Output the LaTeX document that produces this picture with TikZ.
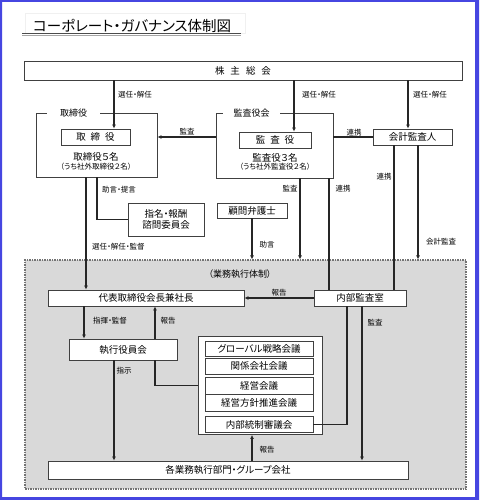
\documentclass[tikz,border=0pt]{standalone}
\usepackage{fontspec}
\setmainfont{Noto Sans CJK JP}[RawFeature=+palt]
\usetikzlibrary{arrows.meta}
\definecolor{frameblue}{RGB}{70,70,225}
\definecolor{execgray}{RGB}{217,217,217}

\begin{document}
\begin{tikzpicture}[x=1pt, y=-1pt,
  box/.style={draw=black!75, fill=white, line width=0.9pt, inner sep=0pt, font=\fontsize{9.5}{11}\selectfont},
  grp/.style={draw=black!75, line width=0.9pt, inner sep=0pt},
  grptitle/.style={fill=white, inner sep=0pt, minimum height=9, font=\fontsize{9}{10}\selectfont},
  lbl/.style={inner sep=0pt, font=\fontsize{7.5}{8}\selectfont},
  link/.style={line width=1.1pt, black!85},
  arr/.style={link, -{Latex[length=4pt, width=4pt]}}]
\useasboundingbox (0, 0) rectangle (479, 500);
\fill[frameblue, even odd rule] (0, 0) rectangle (479, 500) (2, 2) rectangle (475, 497);

\draw[black!6] (25, 13) rectangle (245, 33);
\node[anchor=west, inner sep=0pt, font=\fontsize{14.5}{15}\selectfont] (title) at (33, 25.5) {コーポレート・ガバナンス体制図};
\draw[black!70, line width=1.5pt] (22, 33.5) -- (241, 33.5);
\draw[black!35, line width=1pt] (22, 35.2) -- (241, 35.2);

\coordinate (la) at (114, 0);
\coordinate (lb) at (294, 0);
\coordinate (lc) at (408, 0);
\coordinate (ld) at (86, 0);
\coordinate (le) at (97, 0);
\coordinate (lf) at (300, 0);
\coordinate (lg) at (329, 0);
\coordinate (lh) at (394, 0);
\coordinate (li) at (418, 0);
\coordinate (lj) at (84, 0);
\coordinate (lk) at (155, 0);
\coordinate (ll) at (347, 0);
\coordinate (lm) at (362, 0);

\node[box, minimum width=438, minimum height=19] (kabu) at (243, 70.5) {株\hspace{6pt}主\hspace{6pt}総\hspace{6pt}会};

\node[grp, minimum width=121, minimum height=64] (toriF) at (96.5, 145) {};
\node[grptitle, minimum width=53] (toriT) at (73.5, 113) {取締役};
\node[box, minimum width=69, minimum height=16] (tori) at (95.5, 137) {取\hspace{5pt}締\hspace{5pt}役};
\node[inner sep=0pt, font=\fontsize{9.5}{10}\selectfont] (toriNum) at (96, 157) {取締役５名};
\node[inner sep=0pt, font=\fontsize{7.5}{8}\selectfont] (toriOut) at (96, 166.5) {（うち社外取締役２名）};

\node[grp, minimum width=117, minimum height=65] (kanF) at (274.5, 145.5) {};
\node[grptitle, minimum width=57] (kanT) at (251.5, 113) {監査役会};
\node[box, minimum width=72, minimum height=16] (kan) at (275, 140) {監\hspace{5pt}査\hspace{5pt}役};
\node[inner sep=0pt, font=\fontsize{9.5}{10}\selectfont] (kanNum) at (275, 158) {監査役３名};
\node[inner sep=0pt, font=\fontsize{7.5}{8}\selectfont] (kanOut) at (275, 167) {（うち社外監査役２名）};

\node[box, minimum width=79, minimum height=16] (kaikei) at (412.5, 137) {会計監査人};
\node[box, minimum width=76, minimum height=33, align=center] (shimei) at (166, 219.5) {指名・報酬\\諮問委員会};
\node[box, minimum width=70, minimum height=15] (komon) at (252, 210.5) {顧問弁護士};

\node[draw=black!55, dash pattern=on 1.5pt off 1pt, line width=1.2pt, fill=execgray, inner sep=0pt, minimum width=441, minimum height=229] (gyomu) at (245.5, 374.5) {};
\node[inner sep=0pt, font=\fontsize{9}{10}\selectfont] (gyomuT) at (240, 274) {（業務執行体制）};

\node[box, minimum width=196, minimum height=16] (daihyo) at (146, 298) {代表取締役会長兼社長};
\node[box, minimum width=92, minimum height=16] (naibu) at (360, 298) {内部監査室};
\node[box, minimum width=108, minimum height=21] (shikko) at (123, 349.5) {執行役員会};
\node[box, minimum width=124, minimum height=98] (kaigi) at (260.5, 385.5) {};
\node[box, minimum width=108, minimum height=15] (g1) at (259, 349) {グローバル戦略会議};
\node[box, minimum width=108, minimum height=16] (g2) at (259, 366) {関係会社会議};
\node[box, minimum width=108, minimum height=17] (g3) at (259, 385.5) {経営会議};
\node[box, minimum width=108, minimum height=17] (g4) at (259, 402.5) {経営方針推進会議};
\node[box, minimum width=108, minimum height=16] (g5) at (259, 424.5) {内部統制審議会};
\node[box, minimum width=360, minimum height=18] (kakugyo) at (228, 470) {各業務執行部門・グループ会社};

\draw[arr] (kabu.south -| la) -- (tori.north -| la);
\draw[arr] (kabu.south -| lb) -- (kan.north -| lb);
\draw[arr] (kabu.south -| lc) -- (kaikei.north -| lc);
\draw[arr] (kanF.west |- tori) -- (toriF.east |- tori);
\draw[link] (kanF.east |- kaikei) -- (kaikei.west);
\draw[arr] (toriF.south -| ld) -- (daihyo.north -| ld);
\draw[link] (toriF.south -| le) |- (shimei.west);
\draw[arr] (komon.south) -- (komon.south |- gyomu.north);
\draw[arr] (kanF.south -| lf) -- (gyomu.north -| lf);
\draw[link] (kanF.south -| lg) -- (naibu.north -| lg);
\draw[link] (kaikei.south -| lh) -- (naibu.north -| lh);
\draw[arr] (kaikei.south -| li) -- (gyomu.north -| li);
\draw[arr] (naibu.west) -- (daihyo.east);
\draw[arr] (daihyo.south -| lj) -- (shikko.north -| lj);
\draw[arr] (shikko.north -| lk) -- (daihyo.south -| lk);
\draw[link] (shikko.south -| lk) |- (kaigi.west);
\draw[arr] (shikko.south -| la) -- (kakugyo.north -| la);
\draw[link] (g5.east) -| (naibu.south -| ll);
\draw[arr] (naibu.south -| lm) -- (kakugyo.north -| lm);
\draw[arr] (kakugyo.north -| komon) -- (kaigi.south -| komon);

\node[lbl, anchor=west] (selA) at (118, 94.5) {選任・解任};
\node[lbl, anchor=west] (selB) at (302, 94.5) {選任・解任};
\node[lbl, anchor=west] (selC) at (413, 94.5) {選任・解任};
\node[lbl] (kansaA) at (187, 132) {監査};
\node[lbl] (renA) at (354, 133) {連携};
\node[lbl, anchor=west] (jogenA) at (102, 190) {助言・提言};
\node[lbl, anchor=west] (selD) at (92, 247) {選任・解任・監督};
\node[lbl] (jogenB) at (267, 245) {助言};
\node[lbl] (kansaB) at (290, 189) {監査};
\node[lbl] (renB) at (343, 189) {連携};
\node[lbl] (renC) at (384, 177) {連携};
\node[lbl] (kaikeiK) at (441, 242) {会計監査};
\node[lbl] (hokA) at (279, 293) {報告};
\node[lbl] (shiki) at (110, 321) {指揮・監督};
\node[lbl] (hokB) at (168, 321) {報告};
\node[lbl] (shiji) at (124, 371) {指示};
\node[lbl] (kansaC) at (375, 323) {監査};
\node[lbl] (hokC) at (267, 450) {報告};
\end{tikzpicture}
\end{document}
